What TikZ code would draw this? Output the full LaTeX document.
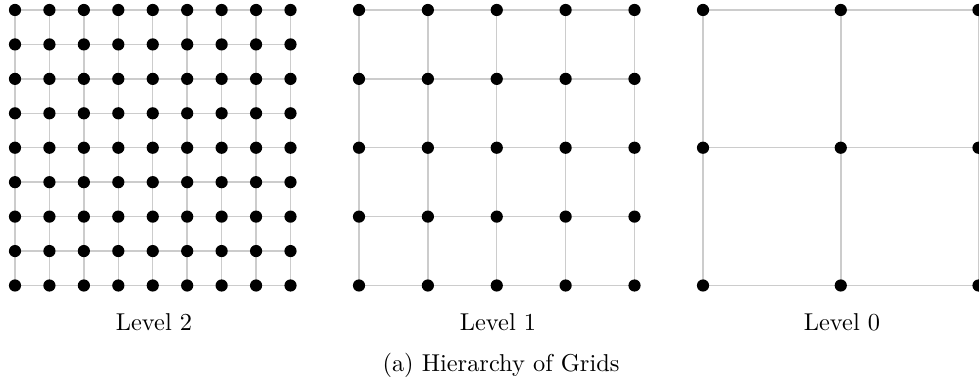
\documentclass[tikz,border=0pt]{standalone}
\tikzset{
  gridline/.style={draw=black!20, line width=0.6pt},
  griddot/.style={fill=black},
}
\begin{document}
\begin{tikzpicture}[x=0.41pt,y=-0.41pt]
\useasboundingbox (0,0) rectangle (979,383);
% three grids, coarser to the right
\foreach \ox/\n/\lvl in {15/8/2,359/4/1,703/2/0}{
  \pgfmathsetmacro\d{275.5/\n}
  \foreach \i in {0,...,\n}{
    \draw[gridline] (\ox+\i*\d,10) -- (\ox+\i*\d,285.5);
    \draw[gridline] (\ox,10+\i*\d) -- (\ox+275.5,10+\i*\d);
  }
  \foreach \i in {0,...,\n}
    \foreach \j in {0,...,\n}
      \fill[griddot] (\ox+\i*\d,10+\j*\d) circle (2.5pt);
  \node (level\lvl) at (\ox+139,322) {Level \lvl};
}
\node (caption) at (501,365) {(a) Hierarchy of Grids};
\end{tikzpicture}
\end{document}
